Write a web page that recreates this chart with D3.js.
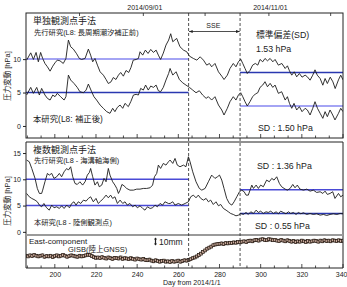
<!DOCTYPE html>
<html><head><meta charset="utf-8">
<script src="https://cdn.jsdelivr.net/npm/d3@7"></script>
<style>body{margin:0;background:#fff}svg{display:block}text{font-family:'Liberation Sans','Noto Sans CJK JP',sans-serif;fill:#222}</style>
</head><body><svg id="c" width="347" height="287"></svg>
<script>
// ---------------- DATA ----------------
const dayDomain = [186, 340];
const sseStart = 265, sseEnd = 290;
const xMajorTicks = [200, 220, 240, 260, 280, 300, 320, 340];
const monthTicks = [212, 243, 273, 304, 334];
const dateLabels = [[243, "2014/09/01"], [304, "2014/11/01"]];
const topYTicks = [0, 5, 10];
const midYTicks = [0, 5, 10, 15];

// 単独観測点手法: 先行研究 (upper) [day, hPa]
const topPrev = [[186.3,9.85],[188.3,10.94],[189.6,9.95],[190.9,11.0],[192.0,9.6],[193.1,11.0],[194.1,10.1],[195.2,9.35],[196.4,8.85],[197.7,8.2],[199.0,8.95],[200.1,9.45],[201.2,9.85],[202.5,9.75],[204.1,9.35],[205.4,10.1],[206.6,12.85],[207.7,11.85],[209.0,11.5],[210.6,10.8],[211.9,10.1],[213.0,9.95],[214.7,10.1],[216.3,11.5],[217.4,10.6],[218.4,9.6],[219.5,10.1],[220.7,9.1],[222.0,8.1],[223.6,7.6],[224.9,6.95],[226.0,6.35],[227.3,6.6],[228.4,7.25],[229.7,6.95],[230.9,7.6],[232.0,8.0],[233.3,7.45],[234.6,8.3],[235.9,8.0],[237.0,8.75],[238.1,9.85],[239.5,9.95],[240.6,10.1],[241.4,11.1],[242.7,10.6],[244.0,11.35],[245.3,10.85],[246.6,11.45],[247.9,11.0],[249.2,11.35],[250.3,10.6],[251.4,9.95],[252.7,10.9],[254.0,12.1],[255.3,12.85],[256.3,13.8],[257.3,12.6],[259.2,13.1],[260.8,11.85],[262.5,11.35],[264.1,11.1],[265.4,10.45],[267.3,10.1],[269.0,9.85],[270.6,10.35],[272.2,9.85],[273.8,9.1],[275.1,9.35],[276.2,8.85],[277.8,9.35],[279.5,8.1],[281.1,7.45],[282.2,6.95],[283.8,7.6],[285.1,8.6],[286.7,9.35],[288.0,8.85],[289.2,9.6],[290.3,10.0],[291.3,9.35],[292.4,8.6],[293.5,7.85],[294.8,8.3],[296.1,9.1],[297.4,9.35],[298.6,9.1],[299.7,9.95],[301.0,9.6],[302.1,10.1],[303.3,9.75],[304.6,10.1],[305.9,9.6],[307.0,9.95],[308.6,9.1],[310.3,9.35],[311.9,8.6],[313.0,9.0],[314.0,8.25],[315.1,7.6],[316.3,8.1],[317.5,7.35],[318.8,7.85],[320.1,7.3],[321.6,7.6],[322.7,7.35],[324.0,6.85],[325.3,7.6],[326.4,8.4],[327.5,7.6],[328.9,7.1],[330.2,6.1],[331.3,7.1],[332.4,6.35],[333.8,7.3],[335.1,6.6],[336.2,5.6],[337.8,6.9],[338.9,7.6],[340.0,6.9]];

// 単独観測点手法: 本研究 (lower)
const topThis = [[186.3,4.63],[188.3,5.77],[189.6,4.88],[191.2,5.77],[192.5,4.63],[193.6,5.62],[195.2,4.63],[196.4,4.13],[197.7,3.88],[199.0,4.63],[200.1,4.38],[201.2,4.88],[202.8,4.38],[204.5,3.88],[205.4,4.38],[206.6,7.61],[207.7,6.87],[209.3,6.37],[210.9,5.77],[212.2,5.12],[213.9,4.97],[215.2,5.37],[216.3,6.27],[217.9,5.12],[219.0,4.38],[220.3,3.88],[222.0,3.13],[223.6,2.64],[225.2,2.14],[226.8,1.89],[228.1,2.64],[229.2,2.14],[230.4,2.79],[231.7,3.13],[233.0,2.64],[234.1,3.38],[235.7,2.89],[236.9,3.63],[238.2,4.63],[239.5,4.73],[240.6,4.63],[241.7,5.62],[243.0,5.37],[244.1,6.12],[245.4,5.37],[246.6,5.97],[247.9,5.77],[249.2,6.12],[250.3,5.27],[251.4,5.12],[252.7,5.77],[254.0,6.87],[255.3,7.86],[256.0,8.6],[257.3,7.61],[258.9,8.11],[260.5,6.96],[262.1,6.46],[263.7,6.12],[265.4,5.77],[267.0,5.37],[268.6,4.97],[270.2,5.27],[271.8,4.63],[273.5,4.13],[274.6,4.38],[276.2,3.88],[277.8,4.38],[279.5,3.13],[281.1,2.39],[282.2,1.64],[283.8,2.64],[285.1,3.63],[286.7,4.38],[288.0,3.88],[289.2,4.63],[290.3,4.97],[291.3,4.38],[292.4,3.63],[293.5,2.99],[294.8,3.63],[296.1,4.38],[297.4,4.78],[298.6,4.97],[299.7,5.77],[301.0,6.12],[302.1,6.62],[303.3,5.87],[304.6,6.37],[305.9,5.77],[307.0,6.12],[308.6,4.88],[310.2,5.12],[311.9,3.88],[313.0,4.38],[314.0,3.38],[315.1,2.64],[316.2,3.38],[317.5,2.39],[318.8,2.89],[320.1,2.14],[321.6,2.64],[322.7,2.39],[324.0,1.64],[325.3,2.64],[326.4,3.63],[327.6,2.64],[328.9,1.89],[330.2,1.14],[331.3,2.14],[332.4,1.39],[333.7,2.39],[335.0,1.64],[336.1,0.9],[337.8,1.89],[338.9,2.64],[340.0,2.14]];

// 複数観測点手法: 先行研究 (upper)
const midPrev = [[186.3,13.66],[187.6,13.34],[188.8,12.07],[190.4,10.17],[191.5,8.26],[192.5,7.31],[193.6,7.31],[194.1,7.94],[195.2,9.53],[196.4,11.12],[197.3,10.8],[198.5,11.12],[199.6,10.17],[200.9,10.48],[202.2,11.12],[203.3,10.48],[204.5,11.43],[205.8,12.07],[206.6,11.75],[207.7,12.39],[208.7,10.48],[209.8,9.21],[210.9,9.02],[212.2,9.53],[213.5,8.9],[214.7,9.53],[215.8,10.8],[216.8,11.31],[217.4,12.07],[218.4,10.48],[219.5,8.9],[220.7,9.53],[221.6,8.58],[222.8,8.9],[223.9,10.17],[224.9,9.53],[226.0,12.07],[226.8,10.8],[228.1,9.53],[229.2,8.9],[230.1,8.26],[230.9,7.31],[231.7,7.94],[232.6,9.02],[233.6,8.77],[234.9,8.26],[236.5,7.94],[238.2,7.94],[239.8,8.13],[241.4,8.13],[243.0,8.26],[244.6,8.26],[246.3,8.39],[247.5,8.9],[248.4,10.48],[249.5,11.12],[250.3,12.7],[251.4,12.07],[252.7,13.02],[254.0,12.7],[255.2,13.34],[256.0,13.66],[257.3,13.02],[258.4,13.97],[259.5,12.7],[260.8,12.39],[262.5,12.7],[263.7,12.39],[264.9,14.29],[265.7,13.34],[267.0,11.43],[268.6,9.53],[270.2,8.26],[271.4,7.94],[273.0,8.26],[274.6,9.53],[276.2,10.8],[277.8,10.17],[279.0,10.48],[280.0,10.8],[281.1,9.85],[282.2,8.26],[283.5,6.36],[284.8,5.4],[286.0,5.09],[287.1,5.72],[288.4,6.67],[289.7,7.63],[290.8,7.94],[292.0,7.63],[292.9,6.99],[294.0,6.99],[295.7,8.9],[296.5,8.26],[297.8,8.9],[298.9,8.26],[300.0,8.9],[301.3,8.58],[302.9,9.85],[304.2,9.53],[305.4,10.17],[306.5,9.85],[307.8,10.48],[309.1,9.21],[310.2,8.58],[311.9,8.13],[313.0,7.94],[314.3,8.26],[315.6,9.02],[316.7,8.39],[317.8,8.9],[319.1,8.13],[320.8,7.94],[322.4,8.13],[324.0,7.75],[325.6,7.94],[327.2,7.5],[328.9,7.63],[330.2,7.31],[331.3,7.75],[332.4,7.12],[333.7,7.31],[335.0,7.63],[336.1,6.36],[337.8,7.31],[338.9,6.67],[340.0,6.99]];

// 複数観測点手法: 本研究 (lower)
const midThis = [[186.3,7.31],[187.6,6.67],[188.8,6.36],[190.4,6.04],[191.5,5.72],[192.5,5.09],[193.6,4.77],[194.7,5.4],[196.0,4.58],[197.3,4.13],[198.5,5.09],[199.6,4.58],[200.9,4.77],[202.2,4.45],[203.3,4.96],[204.5,4.45],[205.8,5.09],[207.1,4.58],[208.2,5.4],[209.3,5.72],[210.3,5.09],[211.4,5.72],[212.6,5.4],[213.9,6.04],[215.2,5.85],[216.3,6.36],[217.4,6.67],[218.7,5.72],[220.0,6.36],[221.1,5.4],[222.3,5.85],[223.6,6.36],[224.9,6.99],[226.0,6.48],[227.1,6.99],[228.1,6.36],[229.2,6.67],[230.4,5.4],[231.7,6.04],[233.0,5.4],[234.1,5.72],[235.2,5.09],[236.5,5.4],[237.8,4.77],[239.0,5.09],[240.1,4.58],[241.4,4.96],[242.7,4.45],[243.8,4.13],[245.0,4.77],[246.3,4.45],[247.5,4.58],[248.7,5.09],[249.8,4.77],[251.1,5.4],[252.4,5.09],[253.5,5.72],[255.2,5.4],[256.0,5.4],[257.3,5.72],[258.4,5.09],[260.0,5.4],[261.6,5.09],[263.3,5.4],[264.9,5.72],[266.0,6.67],[267.3,6.99],[268.6,6.48],[269.7,6.99],[270.9,6.36],[272.2,6.04],[273.5,6.36],[274.6,5.72],[275.7,6.04],[277.0,5.21],[278.3,5.72],[279.5,4.96],[280.6,5.21],[281.9,4.45],[283.2,4.13],[284.3,3.82],[285.4,3.5],[286.7,3.31],[288.0,3.05],[289.2,3.18],[290.3,3.5],[291.6,3.31],[292.9,3.69],[294.0,3.31],[295.2,3.82],[296.5,3.5],[297.8,4.13],[298.9,3.69],[300.0,3.94],[301.3,3.5],[302.6,3.82],[303.7,3.69],[304.9,3.94],[306.2,3.5],[307.5,3.82],[308.6,3.44],[309.7,3.94],[311.0,3.69],[312.3,3.44],[313.5,3.82],[314.6,3.5],[315.9,3.69],[317.2,3.31],[318.3,3.69],[319.5,3.44],[320.8,3.63],[322.4,3.31],[324.0,3.5],[325.6,3.31],[327.2,3.44],[328.9,3.18],[330.5,3.31],[332.1,3.12],[333.7,3.31],[335.3,3.44],[337.0,3.31],[338.6,3.5],[340.0,3.44]];

// period means [before SSE, after SSE]
const topMeansBefore = [10, 5];
const topMeansAfter = [8, 3];
const midMeansBefore = [10, 5];
const midMeansAfter = [8, 3.5];

// GISB East-component, daily from day 186 (mm)
const gnssStartDay = 186;
const gnssEast = [0.5,-0.5,1.0,0.0,1.5,0.5,-0.5,0.5,1.0,-1.0,
0.0,-0.5,0.5,-1.5,0.0,1.0,-0.5,0.5,1.5,0.5,
-1.0,0.0,1.0,0.5,-0.5,-1.0,0.5,-0.5,0.0,1.0,
2.0,1.5,0.0,-1.5,-2.5,-2.0,-3.0,-1.5,-2.5,-3.5,
-2.0,-3.0,-4.0,-2.5,-3.0,-3.5,-2.0,-4.0,-3.0,-3.5,
-4.5,-3.0,-4.0,-5.0,-3.5,-4.5,-5.0,-4.0,-5.5,-6.0,
-5.0,-6.5,-7.5,-6.0,-7.0,-8.0,-7.0,-6.5,-8.0,-7.5,
-8.5,-7.0,-8.0,-7.5,-6.5,-8.0,-7.0,-6.0,-6.5,-5.5,
-4.5,-3.0,-2.0,-0.5,1.5,3.5,6.0,8.0,10.5,12.0,
13.5,15.5,16.5,17.0,17.5,18.0,17.0,18.5,18.0,19.0,
18.5,19.5,19.0,20.0,19.5,20.5,21.0,20.0,21.5,22.0,
21.0,22.5,23.0,22.0,23.5,24.0,23.0,22.5,24.0,23.5,
22.5,23.0,22.0,21.5,23.0,22.0,21.0,22.5,21.5,20.5,
21.5,20.0,21.0,20.5,22.0,21.0,20.0,21.5,20.5,21.0,
22.0,21.5,20.5,22.0,21.0,22.5,21.5,22.0,21.0,22.5,
22.0,21.5,22.5,21.5,22.0];
const gnssErr = 2.5;
const scaleBarMM = 10;

// ---------------- DRAW ----------------
const svg = d3.select("#c");
const L = 26, R = 343;
const x = d3.scaleLinear().domain(dayDomain).range([L, R]);
const yTop = d3.scaleLinear().domain([-1.8, 16.9]).range([138, 13]);
const yMid = d3.scaleLinear().domain([-0.6, 17.1]).range([235, 142]);
const yBot = d3.scaleLinear().domain([-17, 30]).range([268, 235]);

const defs = svg.append("defs");
defs.append("clipPath").attr("id","cTop").append("rect").attr("x",L).attr("y",13).attr("width",R-L).attr("height",125);
defs.append("clipPath").attr("id","cMid").append("rect").attr("x",L).attr("y",142).attr("width",R-L).attr("height",93);
defs.append("clipPath").attr("id","cBot").append("rect").attr("x",L).attr("y",235).attr("width",R-L).attr("height",33);
const mk = defs.append("marker").attr("id","ah").attr("viewBox","0 0 10 10").attr("refX",9).attr("refY",5)
  .attr("markerWidth",5).attr("markerHeight",5).attr("orient","auto-start-reverse");
mk.append("path").attr("d","M0,1.5 L10,5 L0,8.5 Z").attr("fill","#222");

const lightBlue = "#8686f0", midBlue = "#4a4ad6", darkBlue = "#2a38b0";

function means(y, clip, before, after, colB, colA) {
  const g = svg.append("g").attr("clip-path", `url(#${clip})`);
  before.forEach((v,i)=> g.append("line").attr("x1",x(dayDomain[0])).attr("x2",x(sseStart))
    .attr("y1",y(v)).attr("y2",y(v)).attr("stroke",colB[i]).attr("stroke-width",1.5));
  after.forEach((v,i)=> g.append("line").attr("x1",x(sseEnd)).attr("x2",x(dayDomain[1]))
    .attr("y1",y(v)).attr("y2",y(v)).attr("stroke",colA[i]).attr("stroke-width",1.5));
}
means(yTop,"cTop",topMeansBefore,topMeansAfter,[lightBlue,darkBlue],[darkBlue,lightBlue]);
means(yMid,"cMid",midMeansBefore,midMeansAfter,[midBlue,midBlue],[midBlue,darkBlue]);

function curve(data, y, clip) {
  svg.append("path").attr("clip-path",`url(#${clip})`).datum(data)
    .attr("d", d3.line().x(d=>x(d[0])).y(d=>y(d[1])))
    .attr("fill","none").attr("stroke","#1c1c1c").attr("stroke-width",0.9).attr("stroke-linejoin","round");
}
curve(topPrev,yTop,"cTop"); curve(topThis,yTop,"cTop");
curve(midPrev,yMid,"cMid"); curve(midThis,yMid,"cMid");

// GNSS
const gG = svg.append("g").attr("clip-path","url(#cBot)");
const gData = gnssEast.map((v,i)=>[gnssStartDay+i, v]);
gG.selectAll("line.e").data(gData).join("line").attr("class","e")
  .attr("x1",d=>x(d[0])).attr("x2",d=>x(d[0])).attr("y1",d=>yBot(d[1]-gnssErr)).attr("y2",d=>yBot(d[1]+gnssErr))
  .attr("stroke","#241810").attr("stroke-width",0.9);
gG.selectAll("rect").data(gData).join("rect")
  .attr("x",d=>x(d[0])-1.4).attr("y",d=>yBot(d[1])-1.4).attr("width",2.8).attr("height",2.8)
  .attr("fill","#c9aa9c").attr("stroke","#241810").attr("stroke-width",0.7);

// frames
svg.append("rect").attr("x",L).attr("y",13).attr("width",R-L).attr("height",125).attr("fill","none").attr("stroke","#222").attr("stroke-width",1);
svg.append("path").attr("d",`M${L},268 L${L},142 L${R},142 L${R},268 Z`).attr("fill","none").attr("stroke","#222").attr("stroke-width",1);
svg.append("line").attr("x1",L).attr("x2",R).attr("y1",235).attr("y2",235).attr("stroke","#9a9a9a").attr("stroke-width",2);

[sseStart, sseEnd].forEach(d => svg.append("line").attr("x1",x(d)).attr("x2",x(d)).attr("y1",13).attr("y2",268)
  .attr("stroke","#222").attr("stroke-width",0.8).attr("stroke-dasharray","3,2"));

function yAxis(y, ticks) {
  const g = svg.append("g").attr("transform",`translate(${L},0)`)
    .call(d3.axisLeft(y).tickValues(ticks).tickSize(3).tickPadding(2).tickFormat(d3.format("d")));
  g.select(".domain").remove();
  g.selectAll("line").attr("stroke","#222");
  g.selectAll("text").attr("font-size",7).attr("fill","#333").style("font-family","'Liberation Sans',sans-serif");
}
yAxis(yTop, topYTicks); yAxis(yMid, midYTicks);

const allTicks = [];
for (let t = 180; t <= 340; t += 20) for (let k = 0; k < 3; k++) { const v = t + k*20/3; if (v >= dayDomain[0] && v <= dayDomain[1]) allTicks.push([v, k===0]); }
[138, 268].forEach(yb => {
  svg.selectAll(null).data(allTicks).join("line").attr("x1",d=>x(d[0])).attr("x2",d=>x(d[0]))
    .attr("y1",yb).attr("y2",d=>yb-(d[1]?4:2.5)).attr("stroke","#222").attr("stroke-width",0.8);
});
svg.selectAll(null).data(monthTicks).join("line").attr("x1",d=>x(d)).attr("x2",d=>x(d)).attr("y1",13).attr("y2",16)
  .attr("stroke","#222").attr("stroke-width",0.8);

const xa = svg.append("g").attr("transform","translate(0,268)")
  .call(d3.axisBottom(x).tickValues(xMajorTicks).tickSize(0).tickPadding(4));
xa.select(".domain").remove();
xa.selectAll("text").attr("font-size",7).attr("fill","#333").style("font-family","'Liberation Sans',sans-serif");
xa.selectAll(".tick").filter(d => d === 340).select("text").attr("text-anchor","end").attr("dx",4);
svg.append("text").attr("x",163).attr("y",285).attr("font-size",7).text("Day from 2014/1/1");

dateLabels.forEach(([d,t]) => svg.append("text").attr("x",x(d)+1.5).attr("y",10).attr("text-anchor","middle").attr("font-size",7).text(t));

svg.append("line").attr("x1",x(sseStart)+0.5).attr("x2",x(sseEnd)-0.5).attr("y1",31.5).attr("y2",31.5)
  .attr("stroke","#222").attr("stroke-width",0.8).attr("marker-start","url(#ah)").attr("marker-end","url(#ah)");
svg.append("text").attr("x",(x(sseStart)+x(sseEnd))/2-1).attr("y",28).attr("text-anchor","middle").attr("font-size",7).text("SSE");

function t(xp, yp, s, size, anchor) { return svg.append("text").attr("x",xp).attr("y",yp).attr("font-size",size).attr("text-anchor",anchor||"start").text(s); }
t(33, 23.5, "単独観測点手法", 9);
t(34, 34.5, "先行研究(L8: 長周期潮汐補正前)", 7.3);
t(33, 121.5, "本研究(L8: 補正後)", 8.4);
t(256, 37.5, "標準偏差(SD)", 8.8);
t(256, 51.5, "1.53 hPa", 8.8);
t(258, 130.5, "SD : 1.50 hPa", 8.8);
t(33, 152.5, "複数観測点手法", 9);
t(34, 162.5, "先行研究(L8 - 海溝軸海側)", 7.3);
t(34, 224.5, "本研究(L8 - 陸側観測点)", 7.3);
t(257, 168.5, "SD : 1.36 hPa", 8.8);
t(255, 228.5, "SD : 0.55 hPa", 8.8);
t(29, 244, "East-component", 8);
t(68, 251.5, "GISB(陸上GNSS)", 7.5);
t(159, 244.5, `${scaleBarMM}mm`, 8.5);

const sbY = 241.5, sbX = 155.5, half = (yBot(0) - yBot(scaleBarMM))/2;
svg.append("line").attr("x1",sbX).attr("x2",sbX).attr("y1",sbY-half).attr("y2",sbY+half).attr("stroke","#222").attr("stroke-width",1.2);
svg.append("path").attr("d",`M${sbX-1.5},${sbY-half+1.5} L${sbX},${sbY-half-0.5} L${sbX+1.5},${sbY-half+1.5} Z M${sbX-1.5},${sbY+half-1.5} L${sbX},${sbY+half+0.5} L${sbX+1.5},${sbY+half-1.5} Z`).attr("fill","#222");

[[76,"圧力変動 [hPa]"],[201,"圧力変動 [hPa]"]].forEach(([yc,s]) =>
  svg.append("text").attr("transform",`translate(10,${yc}) rotate(-90)`).attr("text-anchor","middle").attr("font-size",7.5).attr("fill","#333").text(s));
</script></body></html>
